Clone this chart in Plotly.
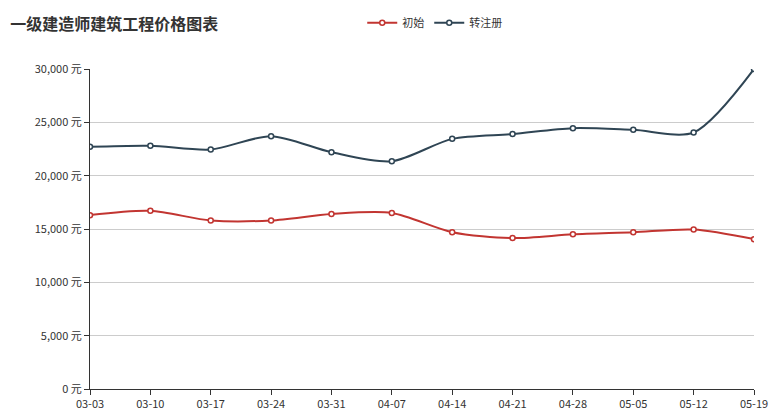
import plotly.graph_objects as go

dates = ["03-03","03-10","03-17","03-24","03-31","04-07","04-14","04-21","04-28","05-05","05-12","05-19"]
initial = [16300,16700,15800,15800,16400,16500,14700,14150,14500,14700,14950,14050]
transfer = [22700,22800,22450,23700,22200,21350,23450,23900,24450,24300,24050,30000]
yticks = [0,5000,10000,15000,20000,25000,30000]
ytext = [f"{v:,} 元" for v in yticks]

fig = go.Figure()
for name, vals, col in [("初始", initial, "#c23531"), ("转注册", transfer, "#2f4554")]:
    fig.add_trace(go.Scatter(x=dates, y=vals, name=name, mode="lines+markers",
        line=dict(color=col, width=2, shape="spline", smoothing=0.8),
        marker=dict(symbol="circle", size=5, color="white", line=dict(color=col, width=1.5))))

fig.update_layout(
    width=779, height=412, plot_bgcolor="white", paper_bgcolor="white",
    margin=dict(l=82, r=33, t=61, b=31, autoexpand=False),
    font=dict(family="Noto Sans CJK SC, sans-serif", size=11, color="#333"),
    title=dict(text="<b>一级建造师建筑工程价格图表</b>", x=0.003, xanchor="left", y=0.975, yanchor="top",
               font=dict(size=16, color="#333")),
    legend=dict(orientation="h", x=0.41, y=1.19, xanchor="left", yanchor="top", font=dict(size=11)),
    xaxis=dict(type="category", showline=True, linecolor="#333", ticks="outside", tickcolor="#333", showgrid=False,
               range=[0, 11], automargin=False),
    yaxis=dict(range=[0, 30000], tickvals=yticks, ticktext=ytext, showline=True, linecolor="#333",
               ticks="outside", tickcolor="#333", gridcolor="#ccc", zeroline=False, automargin=False),
)
fig.write_html("out.html")
